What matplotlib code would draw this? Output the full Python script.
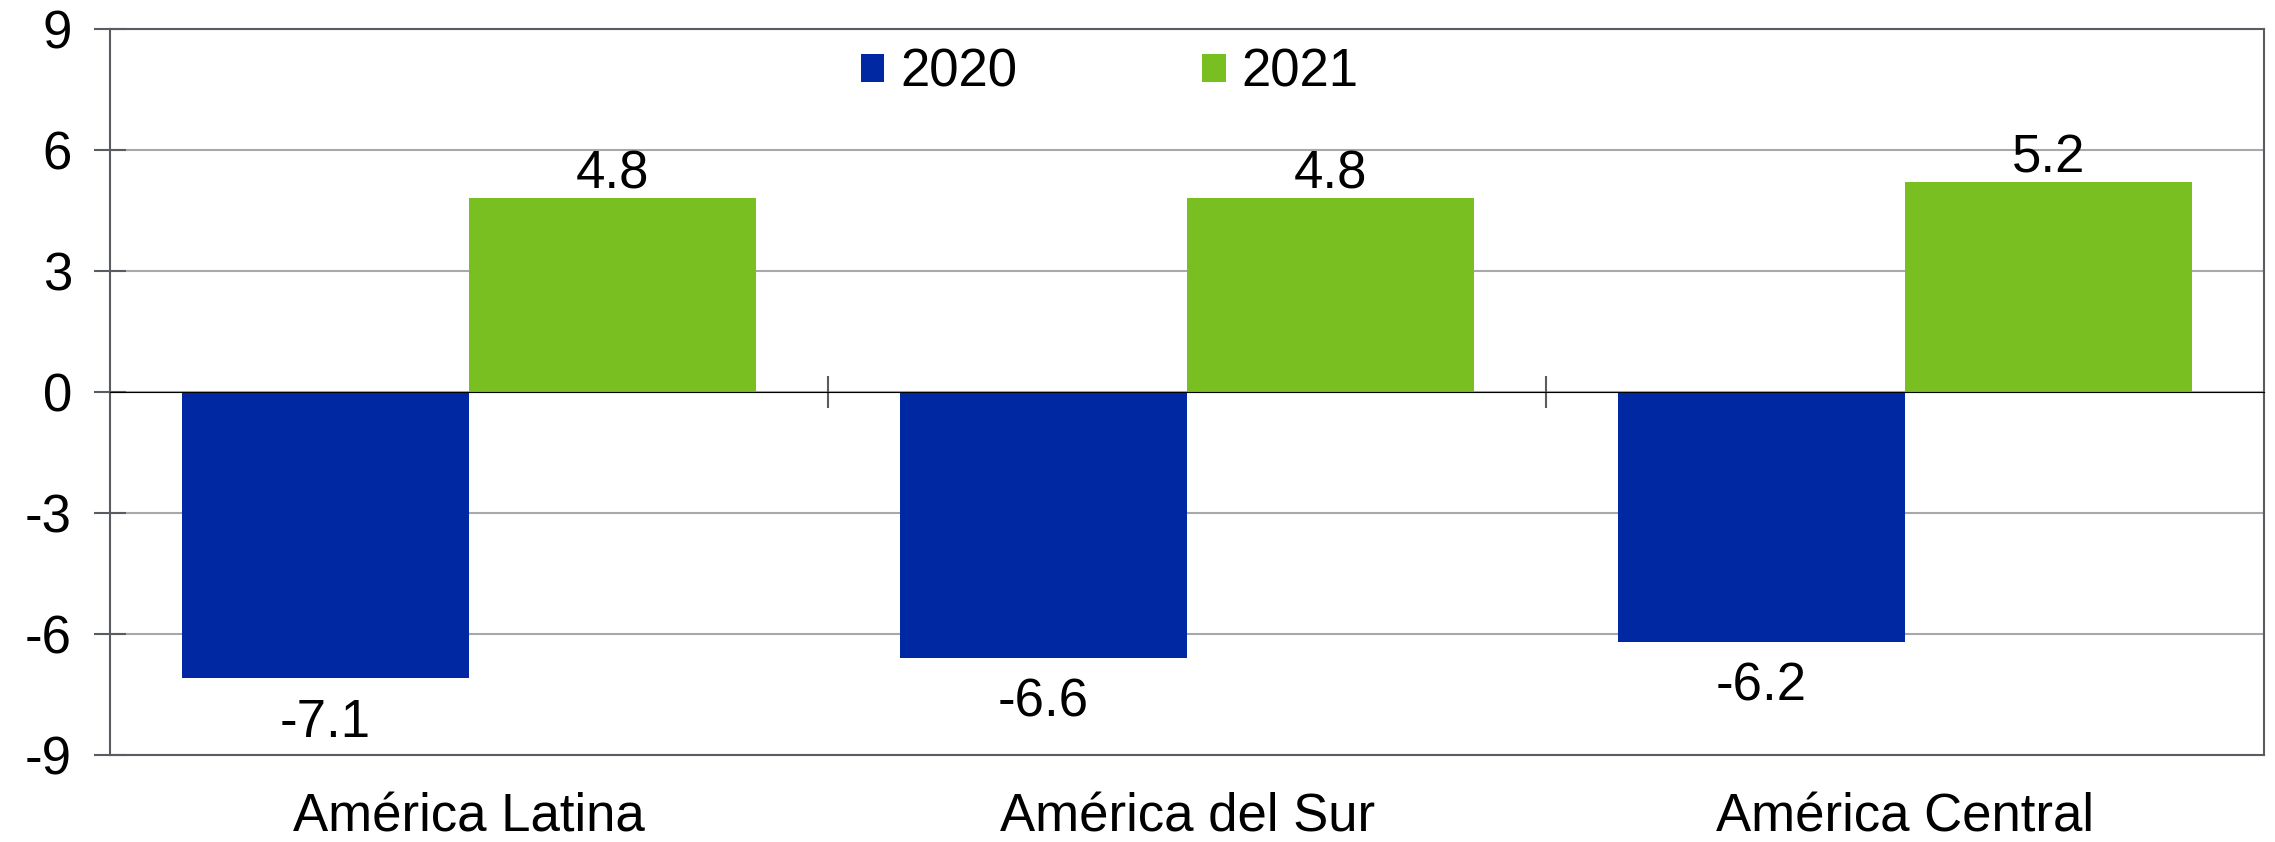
import numpy as np
import matplotlib
matplotlib.use("Agg")
import matplotlib.pyplot as plt

plt.rcParams['font.family'] = ['Liberation Sans', 'DejaVu Sans']
plt.rcParams['axes.unicode_minus'] = False

# data
regions = ["América Latina", "América del Sur", "América Central"]
years = ["2020", "2021"]
growth_2020 = [-7.1, -6.6, -6.2]
growth_2021 = [4.8, 4.8, 5.2]
yticks = [-9, -6, -3, 0, 3, 6, 9]

blue = "#0028A3"
green = "#7ABF22"
dark = "#595C61"
grid = "#A6A8AA"
fs = 38

fig = plt.figure(figsize=(22.75, 8.42), dpi=100)
ax = fig.add_axes([0.0484, 0.1033, 0.9468, 0.8622])

x = np.arange(len(regions))
w = 0.4
b1 = ax.bar(x - w / 2, growth_2020, w, color=blue, label=years[0], zorder=3)
b2 = ax.bar(x + w / 2, growth_2021, w, color=green, label=years[1], zorder=3)

ax.bar_label(b1, labels=[f"{v:.1f}" for v in growth_2020], padding=14, fontsize=fs)
ax.bar_label(b2, labels=[f"{v:.1f}" for v in growth_2021], padding=-1, fontsize=fs)

ax.set_xlim(-0.5, len(regions) - 0.5)
ax.set_ylim(-9, 9)
ax.set_yticks(yticks)
ax.set_yticklabels([str(t) for t in yticks], fontsize=fs)
ax.yaxis.grid(True, color=grid, linewidth=1.5, zorder=0)
ax.tick_params(axis='y', direction='inout', length=23, width=1.5, color=dark, pad=16)

ax.set_xticks(x)
ax.set_xticklabels(regions, fontsize=fs)
ax.tick_params(axis='x', length=0, pad=27)

for s in ax.spines.values():
    s.set_color(dark)
    s.set_linewidth(1.5)

# zero line with category separators
sec = ax.secondary_xaxis(0.5)
sec.set_xticks(x[:-1] + 0.5)
sec.set_xticklabels([])
sec.tick_params(direction='inout', length=23, width=1.5, color=dark)
sec.spines['bottom'].set_color(dark)
sec.spines['bottom'].set_linewidth(2)
sec.set_zorder(4)

ax.legend(loc='upper center', bbox_to_anchor=(0.464, 1.04), ncol=2, frameon=False,
          fontsize=fs, handlelength=0.45, handleheight=0.45, handletextpad=0.3,
          columnspacing=3.5)

fig.savefig("out.png", dpi=100)
